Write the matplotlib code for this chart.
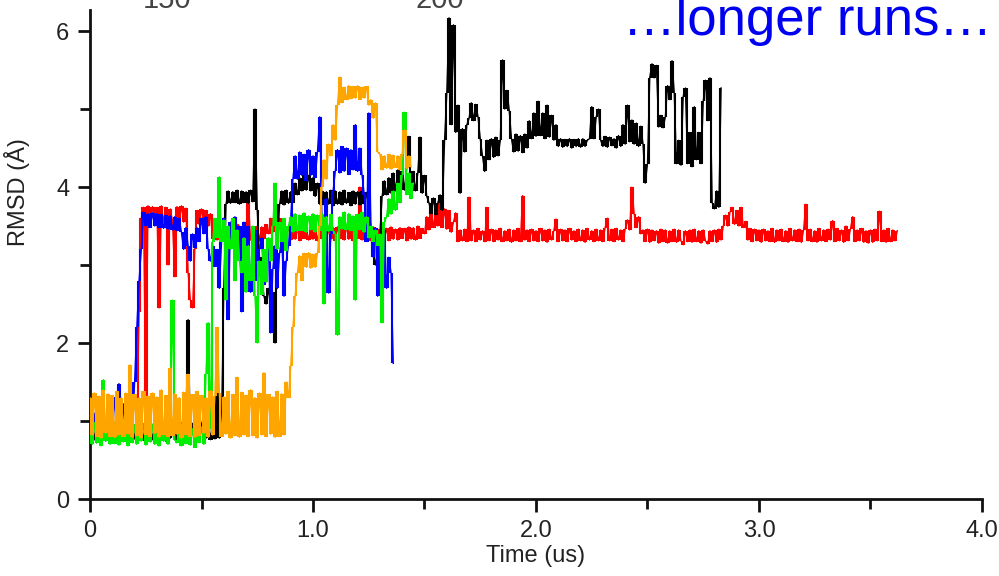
import numpy as np
import matplotlib
matplotlib.use("Agg")
import matplotlib.pyplot as plt
from matplotlib.ticker import MultipleLocator, FixedLocator

plt.rcParams['font.family'] = ['Liberation Sans', 'DejaVu Sans']

DT = 0.01  # sampling interval of the RMSD traces (us)

rmsd_red = [
    0.95, 0.74, 1.02, 0.78, 0.98, 0.73, 1.00, 0.77, 1.05, 0.75,
    0.97, 0.72, 1.00, 0.76, 1.02, 0.74, 0.96, 0.78, 0.99, 0.73,
    0.95, 0.78, 2.40, 3.60, 3.74, 1.20, 3.76, 3.56, 3.75, 3.58,
    3.74, 2.45, 3.76, 3.55, 3.74, 3.00, 3.72, 3.56, 2.85, 3.75,
    3.56, 3.76, 3.55, 3.73, 2.90, 2.55, 2.45, 3.20, 3.70, 3.52,
    3.72, 3.54, 3.70, 3.50, 3.66, 3.34, 3.50, 3.32, 3.48, 3.33,
    3.47, 3.32, 3.50, 3.34, 3.48, 3.31, 3.52, 3.33, 3.47, 3.35,
    3.50, 3.85, 3.32, 3.48, 3.33, 3.50, 3.31, 3.49, 3.34, 3.52,
    3.40, 3.60, 3.42, 3.62, 3.44, 3.60, 3.40, 3.58, 3.36, 3.50,
    3.32, 3.48, 3.33, 3.47, 3.31, 3.50, 3.34, 3.46, 3.32, 3.48,
    3.33, 3.49, 3.31, 3.47, 3.34, 3.50, 3.32, 3.46, 3.33, 3.48,
    3.31, 3.49, 3.34, 3.47, 3.32, 3.50, 3.33, 3.48, 3.31, 3.47,
    3.34, 4.00, 3.32, 3.48, 3.33, 3.47, 3.31, 3.49, 3.34, 3.46,
    3.32, 3.48, 3.33, 3.47, 3.31, 3.49, 3.33, 3.46, 3.32, 3.48,
    3.34, 3.47, 3.31, 3.49, 3.33, 3.48, 3.32, 3.50, 3.34, 3.47,
    3.40, 3.62, 3.45, 3.70, 3.48, 3.72, 3.50, 3.80, 3.48, 3.72,
    3.46, 3.70, 3.42, 3.55, 3.67, 3.30, 3.45, 3.31, 3.46, 3.30,
    3.87, 3.31, 3.45, 3.30, 3.47, 3.32, 3.44, 3.30, 3.74, 3.31,
    3.46, 3.30, 3.45, 3.32, 3.47, 3.30, 3.44, 3.31, 3.46, 3.29,
    3.45, 3.31, 3.47, 3.30, 3.89, 3.32, 3.45, 3.30, 3.46, 3.31,
    3.44, 3.30, 3.47, 3.31, 3.45, 3.29, 3.46, 3.32, 3.44, 3.59,
    3.30, 3.46, 3.31, 3.45, 3.30, 3.47, 3.32, 3.44, 3.30, 3.46,
    3.31, 3.45, 3.29, 3.47, 3.32, 3.44, 3.30, 3.46, 3.31, 3.45,
    3.30, 3.48, 3.60, 3.31, 3.46, 3.30, 3.47, 3.32, 3.45, 3.30,
    3.46, 3.58, 3.45, 4.00, 3.66, 3.48, 3.62, 3.40, 3.45, 3.30,
    3.46, 3.29, 3.45, 3.31, 3.44, 3.28, 3.46, 3.30, 3.45, 3.28,
    3.44, 3.30, 3.46, 3.29, 3.45, 3.31, 3.26, 3.44, 3.30, 3.45,
    3.29, 3.46, 3.30, 3.44, 3.28, 3.45, 3.31, 3.27, 3.44, 3.30,
    3.45, 3.29, 3.46, 3.32, 3.50, 3.64, 3.50, 3.68, 3.74, 3.52,
    3.70, 3.50, 3.74, 3.48, 3.56, 3.32, 3.47, 3.30, 3.46, 3.31,
    3.45, 3.29, 3.46, 3.31, 3.44, 3.30, 3.47, 3.29, 3.45, 3.31,
    3.46, 3.30, 3.44, 3.29, 3.47, 3.31, 3.45, 3.30, 3.46, 3.29,
    3.45, 3.78, 3.31, 3.46, 3.30, 3.44, 3.29, 3.47, 3.31, 3.45,
    3.30, 3.46, 3.32, 3.57, 3.30, 3.47, 3.31, 3.45, 3.29, 3.50,
    3.31, 3.46, 3.62, 3.30, 3.45, 3.31, 3.47, 3.29, 3.44, 3.28,
    3.45, 3.29, 3.46, 3.31, 3.69, 3.30, 3.45, 3.29, 3.47, 3.30,
    3.45, 3.31, 3.44,
]

rmsd_black = [
    0.78, 0.98, 0.76, 0.96, 0.75, 0.95, 0.78, 0.97, 0.76, 0.94,
    0.77, 0.98, 0.75, 0.96, 0.78, 0.95, 0.76, 0.97, 0.74, 0.96,
    0.77, 0.95, 0.76, 0.98, 0.75, 0.96, 0.78, 0.94, 0.76, 0.97,
    0.75, 0.96, 0.77, 0.98, 0.74, 0.95, 0.78, 0.97, 0.76, 0.95,
    0.77, 0.98, 0.75, 0.96, 2.30, 0.78, 0.97, 0.76, 0.95, 0.77,
    0.96, 1.05, 0.78, 0.97, 0.76, 1.00, 0.77, 1.50, 0.78, 0.98,
    2.70, 3.78, 3.95, 3.79, 3.94, 3.80, 3.96, 3.78, 3.95, 3.80,
    3.94, 3.79, 3.96, 3.81, 5.00, 3.70, 3.10, 2.85, 2.60, 2.50,
    2.70, 2.45, 2.65, 2.00, 3.20, 3.78, 3.95, 3.77, 3.96, 3.79,
    3.94, 3.80, 4.05, 3.90, 4.12, 3.95, 4.18, 3.96, 4.15, 3.95,
    4.12, 3.88, 4.05, 3.78, 3.95, 3.77, 3.94, 3.78, 3.96, 3.76,
    3.95, 3.78, 3.94, 3.77, 3.96, 3.79, 3.93, 3.76, 3.95, 3.78,
    3.94, 3.77, 3.95, 3.78, 3.93, 3.70, 3.50, 3.20, 3.00, 3.15,
    3.40, 3.88, 4.08, 3.90, 4.12, 3.92, 4.18, 3.95, 4.22, 3.92,
    4.20, 3.96, 4.24, 4.65, 3.98, 4.20, 3.95, 4.18, 4.64, 3.92,
    4.15, 3.88, 3.80, 3.66, 3.86, 3.64, 3.80, 3.90, 3.70, 4.60,
    5.20, 6.17, 4.80, 6.08, 4.70, 5.05, 3.92, 4.75, 4.45, 4.80,
    4.88, 5.08, 4.85, 5.06, 4.90, 4.62, 4.40, 4.20, 4.60, 4.35,
    4.62, 4.38, 4.64, 4.40, 4.60, 5.63, 5.00, 5.24, 4.98, 4.62,
    4.45, 4.68, 4.46, 4.66, 4.44, 4.68, 4.50, 4.85, 4.62, 4.95,
    4.65, 5.10, 4.66, 4.95, 4.62, 5.05, 4.64, 4.92, 4.60, 4.80,
    4.52, 4.62, 4.51, 4.61, 4.52, 4.62, 4.50, 4.61, 4.52, 4.62,
    4.51, 4.62, 4.52, 4.60, 4.62, 5.03, 4.62, 4.90, 5.00, 4.60,
    4.52, 4.65, 4.51, 4.64, 4.53, 4.62, 4.50, 4.66, 4.52, 4.80,
    4.55, 5.05, 4.58, 4.86, 4.55, 4.82, 4.52, 4.78, 4.55, 4.05,
    4.30, 5.40, 5.58, 5.40, 5.56, 4.77, 4.92, 4.76, 4.90, 5.30,
    5.12, 5.62, 5.20, 4.30, 4.60, 4.28, 5.16, 5.27, 4.30, 4.70,
    4.26, 5.03, 4.35, 4.70, 4.30, 5.10, 5.37, 4.85, 5.40, 3.80,
    3.72, 3.95, 3.74, 5.27,
]

rmsd_blue = [
    1.25, 0.75, 1.10, 0.72, 1.28, 0.78, 1.00, 0.74, 1.15, 0.76,
    0.95, 1.30, 0.74, 1.48, 0.80, 1.22, 0.76, 1.00, 1.35, 0.80,
    1.50, 2.20, 2.80, 3.20, 3.68, 3.50, 3.66, 3.48, 3.67, 3.50,
    3.66, 3.48, 3.65, 3.47, 3.64, 3.46, 3.63, 3.45, 3.62, 3.44,
    3.60, 3.42, 3.20, 3.48, 3.25, 3.05, 3.40, 3.22, 3.48, 3.30,
    3.60, 3.40, 3.62, 3.20, 3.05, 3.25, 2.98, 3.20, 2.70, 3.30,
    3.60, 3.30, 2.30, 3.55, 3.25, 3.62, 3.20, 3.50, 2.40, 3.55,
    3.25, 3.50, 2.65, 3.30, 3.45, 2.80, 3.20, 3.35, 2.75, 3.10,
    3.30, 2.13, 2.95, 3.25, 2.70, 3.15, 3.35, 2.60, 3.05, 3.25,
    3.60, 4.10, 4.40, 4.10, 4.45, 4.15, 4.42, 4.08, 4.48, 4.15,
    4.40, 4.12, 4.45, 4.90, 3.60, 3.20, 3.85, 2.64, 3.40, 3.95,
    4.20, 4.48, 4.18, 4.52, 4.20, 4.50, 4.16, 4.48, 4.22, 4.80,
    4.20, 4.50, 4.15, 3.90, 3.30, 4.95, 3.45, 3.10, 3.48, 2.60,
    3.30, 3.00, 3.45, 2.70, 3.10, 2.90, 1.74,
]

rmsd_green = [
    0.88, 0.70, 0.98, 0.72, 0.92, 0.68, 1.53, 0.74, 0.95, 0.70,
    0.92, 0.71, 0.98, 0.69, 0.90, 0.73, 0.96, 0.68, 0.93, 0.72,
    0.95, 0.70, 0.90, 0.74, 0.97, 0.69, 0.92, 0.73, 0.96, 0.70,
    0.93, 0.68, 0.98, 0.74, 0.91, 0.70, 0.95, 2.55, 0.76, 0.72,
    0.96, 0.68, 0.92, 0.71, 0.95, 0.69, 0.90, 0.66, 0.97, 0.72,
    0.92, 0.70, 1.60, 2.26, 0.90, 3.30, 3.60, 3.35, 4.13, 3.30,
    3.58, 2.55, 3.50, 3.20, 3.60, 2.80, 3.45, 3.05, 2.90, 3.35,
    2.65, 3.25, 2.80, 3.50, 2.60, 2.00, 3.05, 2.62, 3.20, 2.78,
    3.35, 3.05, 3.50, 4.05, 3.20, 3.55, 3.30, 3.60, 3.18, 3.50,
    3.62, 3.42, 3.66, 3.43, 3.64, 3.44, 3.67, 3.42, 3.63, 3.45,
    3.66, 3.42, 3.64, 3.44, 3.66, 2.50, 3.62, 3.43, 3.65, 3.44,
    3.40, 2.10, 3.62, 3.46, 3.68, 3.45, 3.66, 3.44, 3.63, 2.55,
    3.65, 3.45, 3.68, 3.42, 3.62, 3.35, 3.50, 3.30, 3.45, 3.25,
    3.40, 2.26, 3.55, 3.62, 3.85, 3.65, 3.95, 3.70, 4.05, 3.80,
    4.15, 4.96, 3.90, 4.18, 3.85, 4.05,
]

rmsd_orange = [
    1.30, 0.82, 1.36, 0.80, 1.32, 0.78, 1.40, 0.84, 1.35, 0.80,
    1.33, 0.79, 1.38, 0.82, 1.30, 0.80, 1.36, 0.83, 1.72, 0.79,
    1.34, 0.81, 1.30, 0.78, 1.38, 0.82, 1.32, 0.80, 1.36, 0.84,
    1.31, 0.79, 1.40, 0.82, 1.33, 0.80, 1.68, 0.81, 1.35, 0.83,
    1.30, 0.78, 1.37, 0.82, 1.60, 0.80, 1.34, 0.79, 1.38, 0.81,
    1.33, 0.84, 1.30, 0.79, 1.39, 0.82, 1.32, 2.20, 1.36, 0.80,
    1.31, 0.83, 1.38, 0.78, 1.34, 0.81, 1.56, 0.79, 1.37, 0.82,
    1.33, 0.80, 1.40, 0.81, 1.30, 0.78, 1.36, 0.82, 1.62, 0.80,
    1.34, 0.83, 1.31, 0.79, 1.38, 0.80, 1.35, 0.82, 1.50, 1.30,
    1.70, 2.20, 2.60, 2.90, 3.12, 2.80, 3.15, 2.97, 3.16, 2.96,
    3.14, 2.97, 3.15, 3.50, 4.00, 4.35, 4.10, 4.55, 4.40, 4.80,
    4.60, 5.05, 5.41, 5.08, 5.28, 5.12, 5.30, 5.13, 5.29, 5.14,
    5.30, 5.12, 5.28, 5.14, 5.29, 5.05, 5.12, 4.88, 5.08, 4.45,
    4.42, 4.22, 4.40, 4.24, 4.42, 4.23, 4.41, 4.25, 4.40, 4.22,
    4.42, 4.73, 4.24, 4.40, 4.26,
]

# drawing order: first listed is at the bottom
series = [
    (rmsd_red, "#ff0000"),
    (rmsd_black, "#000000"),
    (rmsd_blue, "#0000ff"),
    (rmsd_green, "#00ee00"),
    (rmsd_orange, "#ffa500"),
]

x_ticks = [0, 1.0, 2.0, 3.0, 4.0]
x_ticklabels = ["0", "1.0", "2.0", "3.0", "4.0"]
y_ticks = [0, 2, 4, 6]
y_ticklabels = ["0", "2", "4", "6"]
marker_labels = ["150", "200"]

fig = plt.figure(figsize=(9.99, 5.76), dpi=100)
ax = fig.add_axes([90 / 999, 77 / 576, 892 / 999, 489 / 576])

for z, (values, color) in enumerate(series):
    v = np.asarray(values)
    t = np.arange(len(v)) * DT
    # vertical strokes spanning each sample-to-sample excursion
    t_mid = (t[:-1] + t[1:]) / 2
    ax.vlines(t_mid, np.minimum(v[:-1], v[1:]), np.maximum(v[:-1], v[1:]),
              colors=color, lw=1.5, zorder=2 + z)
    ax.plot(t, v, color=color, lw=1.0, zorder=2 + z)

ax.set_xlim(0, 4.0)
ax.set_ylim(0, 6.27)

for side in ("top", "right"):
    ax.spines[side].set_visible(False)
for side in ("left", "bottom"):
    ax.spines[side].set_linewidth(2.0)
    ax.spines[side].set_color("#111111")

ax.xaxis.set_major_locator(FixedLocator(x_ticks))
ax.set_xticklabels(x_ticklabels)
ax.xaxis.set_minor_locator(MultipleLocator(0.5))
ax.yaxis.set_major_locator(FixedLocator(y_ticks))
ax.set_yticklabels(y_ticklabels)
ax.yaxis.set_minor_locator(MultipleLocator(1))

ax.tick_params(which="major", direction="out", length=9, width=2.0,
               color="#111111", labelsize=17, labelcolor="#222222", pad=6)
ax.tick_params(which="minor", direction="out", length=7, width=2.0,
               color="#111111")

ax.set_xlabel("Time (us)", fontsize=17, color="#222222", labelpad=2)
ax.set_ylabel("RMSD (Å)", fontsize=17, color="#222222")
ax.yaxis.set_label_coords(-0.067, 0.628)

fig.text(167 / 999, 1 - 8 / 576, marker_labels[0], ha="center", va="baseline",
         fontsize=21, color="#444444")
fig.text(440 / 999, 1 - 8 / 576, marker_labels[1], ha="center", va="baseline",
         fontsize=21, color="#444444")

fig.text(992 / 999, 1 - 35 / 576, "\u2026longer runs\u2026", ha="right",
         va="baseline", fontsize=38, color="#0000f0")

fig.savefig("out.png", dpi=100)
